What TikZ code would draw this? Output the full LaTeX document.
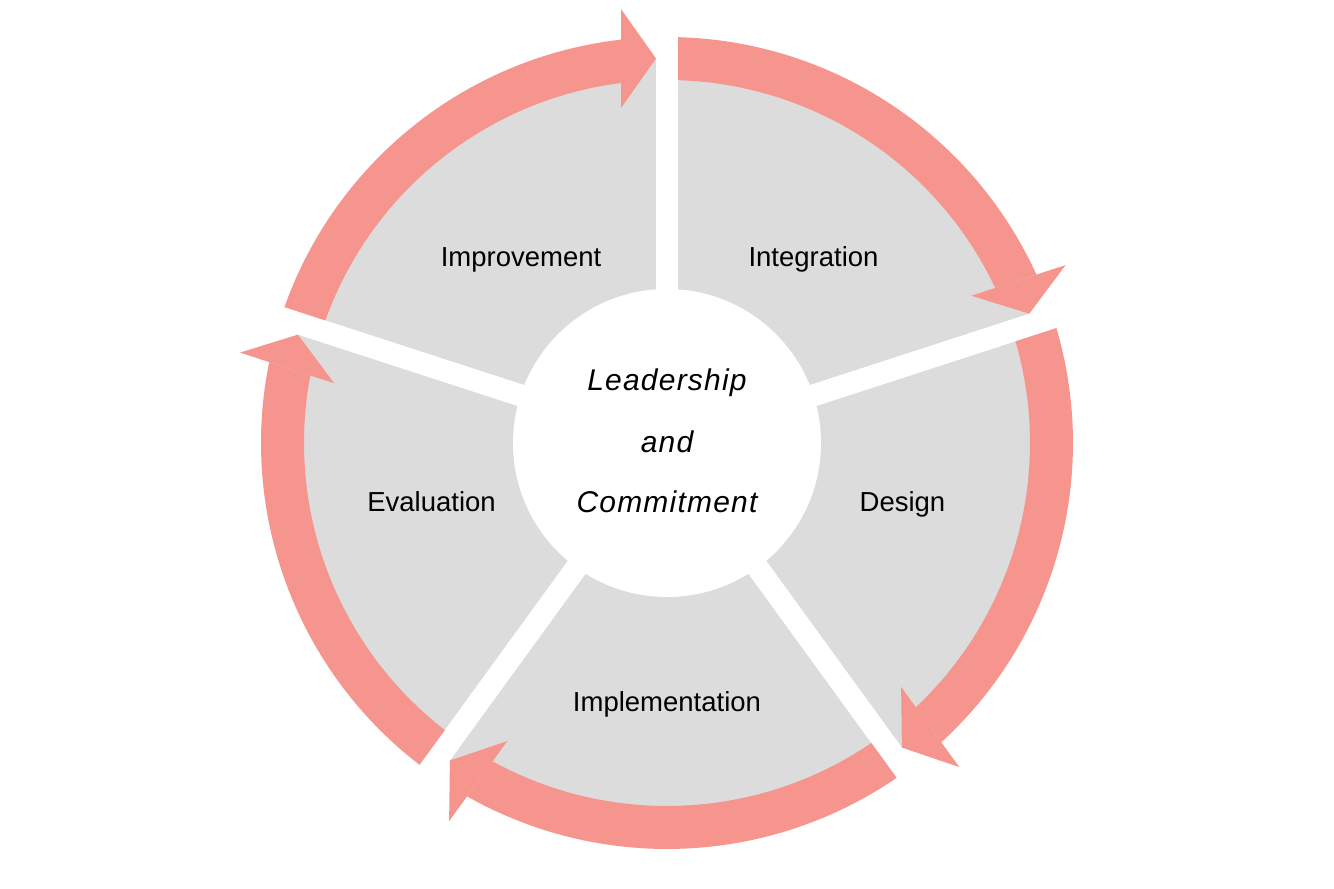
\documentclass[tikz,border=0pt]{standalone}
\usepackage{fontspec}
\setmainfont{Liberation Sans}
\newfontfamily\centerfont[LetterSpace=4]{Liberation Sans}
\definecolor{arrowpink}{HTML}{F5958D}
\definecolor{segrey}{HTML}{DCDCDC}
\tikzset{
  seglabel/.style={anchor=base, inner sep=0pt, text=black, font=\fontsize{27.5}{33}\selectfont},
  centerlabel/.style={anchor=base, inner sep=0pt, text=black, font=\centerfont\itshape\fontsize{30}{36}\selectfont},
  gapstrip/.style={fill=white},
  cyclearrow/.style={fill=arrowpink}
}
\begin{document}
\begin{tikzpicture}[x=1pt,y=1pt]
\useasboundingbox (0,0) rectangle (1334,889);
\begin{scope}[shift={(667,446)}]
  \fill[segrey] (0,0) circle[radius=385];
  \foreach \t in {90,18,-54,-126,162} {
    \fill[gapstrip, rotate=\t] (0,-11) -- (470,-11) -- (470,11) -- (0,11) -- cycle;
  }
  \fill[white] (0,0) circle[radius=154];
  \foreach \t in {162,90,18,-54,-126} {
    \fill[cyclearrow] (\t-1.553:406) arc[start angle=\t-1.553, end angle=\t-65.495, radius=406]
      -- (\t-64.719:363) arc[start angle=\t-64.719, end angle=\t-1.737, radius=363] -- cycle;
    \fill[cyclearrow, rotate=\t-72] (384.5,11) -- (335,46) -- (434,46) -- cycle;
  }
\end{scope}
\node[seglabel] (improvement) at (521,622) {Improvement};
\node[seglabel] (integration) at (813.5,622) {Integration};
\node[seglabel] (design) at (902.5,377) {Design};
\node[seglabel] (evaluation) at (431.5,377) {Evaluation};
\node[seglabel] (implementation) at (667,177) {Implementation};
\node[centerlabel] (lead1) at (667,498) {Leadership};
\node[centerlabel] (lead2) at (667,436) {and};
\node[centerlabel] (lead3) at (667,376) {Commitment};
\end{tikzpicture}
\end{document}
